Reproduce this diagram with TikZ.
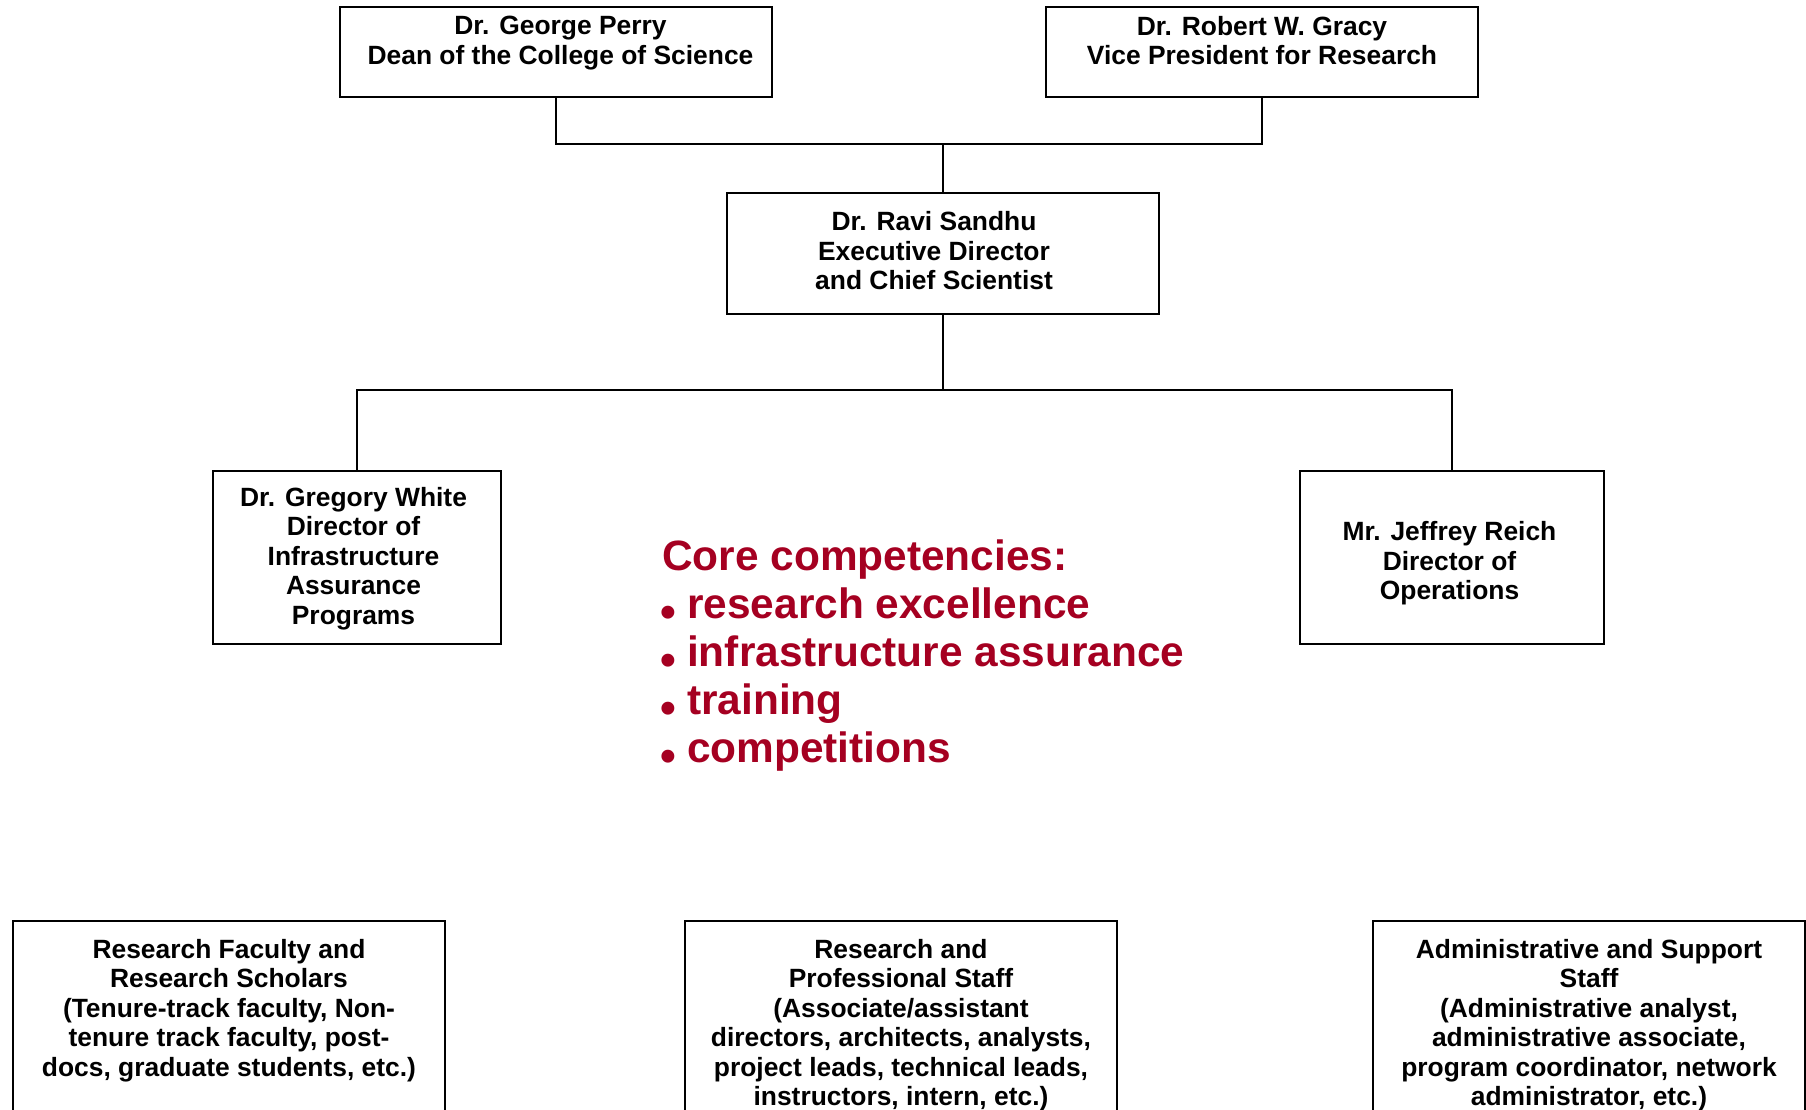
\documentclass[tikz,border=0pt]{standalone}
\usepackage{fontspec}
\setmainfont{Liberation Sans}
\usetikzlibrary{positioning}
\definecolor{corered}{RGB}{165,0,33}
\tikzset{%
    post/.style={%
        rectangle, draw=black, line width=2pt, inner sep=0pt
    },
    posttext/.style={%
        align=center, inner sep=0pt,
        font=\fontsize{26.4}{29.5}\selectfont\bfseries
    },
    link/.style={%
        line width=2pt, line cap=rect
    },
    competence/.style={%
        align=left, inner sep=0pt, anchor=north west, text=corered,
        font=\fontsize{42.4}{48}\selectfont\bfseries
    },
}
\newcommand{\dotitem}{\makebox[12pt][c]{\raisebox{-8.5pt}{\fontsize{45}{45}\selectfont\textbullet}}\hspace{13pt}}

\begin{document}
\begin{tikzpicture}[x=1pt, y=-1pt]
  \useasboundingbox (0,0) rectangle (1806,1110);

  % dean and vice president
  \node[post, minimum width=432pt, minimum height=90pt] (perry) at (556,52) {};
  \node[posttext, anchor=north] (perrytext) at (560.5,16) {Dr. George Perry\\Dean of the College of Science};
  \node[post, minimum width=432pt, minimum height=90pt] (gracy) at (1262,52) {};
  \node[posttext, anchor=north] (gracytext) at (1262,16) {Dr. Robert W. Gracy\\Vice President for Research};

  % executive director
  \node[post, minimum width=432pt, minimum height=120pt] (sandhu) at (943,253.5) {};
  \node[posttext] (sandhutext) at (934,251) {Dr. Ravi Sandhu\\Executive Director\\and Chief Scientist};

  % directors
  \node[post, minimum width=288pt, minimum height=173pt] (white) at (357,557.5) {};
  \node[posttext] (whitetext) at (353.5,558.5) {Dr. Gregory White\\Director of\\Infrastructure\\Assurance\\Programs};
  \node[post, minimum width=304pt, minimum height=173pt] (reich) at (1452,557.5) {};
  \node[posttext] (reichtext) at (1449.5,563.5) {Mr. Jeffrey Reich\\Director of\\Operations};

  \coordinate (top) at (943,144);
  \draw[link] (perry.south) |- (top);
  \draw[link] (gracy.south) |- (top);
  \draw[link] (top) -- (sandhu.north);
  \coordinate (fork) at (943,390);
  \draw[link] (sandhu.south) -- (fork);
  \draw[link] (white.north) |- (fork);
  \draw[link] (reich.north) |- (fork);

  \node[competence] (core) at (662,540) {Core competencies:\\
    \dotitem research excellence\\
    \dotitem infrastructure assurance\\
    \dotitem training\\
    \dotitem competitions};

  % staff groups
  \node[post, minimum width=432pt, minimum height=250pt] (faculty) at (229,1046) {};
  \node[posttext, anchor=north] (facultytext) at (229,939) {Research Faculty and\\Research Scholars\\(Tenure-track faculty, Non-\\tenure track faculty, post-\\docs, graduate students, etc.)};
  \node[post, minimum width=432pt, minimum height=250pt] (staff) at (901,1046) {};
  \node[posttext, anchor=north] (stafftext) at (901,939) {Research and\\Professional Staff\\(Associate/assistant\\directors, architects, analysts,\\project leads, technical leads,\\instructors, intern, etc.)};
  \node[post, minimum width=432pt, minimum height=250pt] (support) at (1589,1046) {};
  \node[posttext, anchor=north] (supporttext) at (1589,939) {Administrative and Support\\Staff\\(Administrative analyst,\\administrative associate,\\program coordinator, network\\administrator, etc.)};
\end{tikzpicture}
\end{document}
